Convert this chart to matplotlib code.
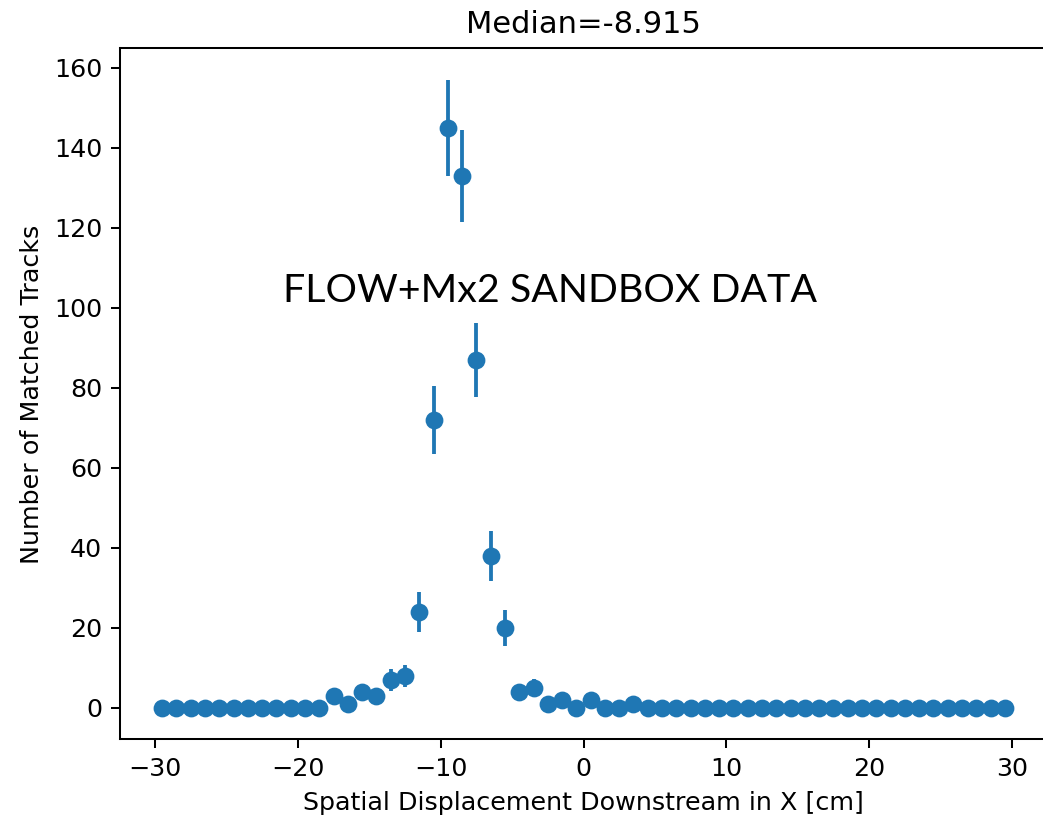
import numpy as np
import matplotlib.pyplot as plt

# bin centres of 1 cm bins from -30 to 30
bin_centres = np.arange(-29.5, 30.0, 1.0)

# counts (one per bin)
counts = [0, 0, 0, 0, 0, 0, 0, 0, 0, 0, 0, 0,     # -29.5 .. -18.5
          3, 1, 4, 3, 7, 8, 24, 72, 145, 133,      # -17.5 .. -8.5
          87, 38, 20, 4, 5, 1, 2, 0, 2, 0,         # -7.5 .. 1.5
          0, 1] + [0] * 26                         # 2.5 .. 29.5
counts = np.array(counts)
errors = np.sqrt(counts)

median_value = -8.915
title_text = f"Median={median_value}"
overlay_text = "FLOW+Mx2 SANDBOX DATA"

dpi = 183
fig = plt.figure(figsize=(1043 / dpi, 822 / dpi), dpi=dpi)
# right edge of the axes sits just past the picture, as in the screenshot
ax = fig.add_axes([120 / 1043, 1 - 739.4 / 822, (1047 - 120) / 1043, (739.4 - 48.4) / 822])

ax.errorbar(bin_centres, counts, yerr=errors, fmt='o')

ax.set_title(title_text)
ax.set_xlabel('Spatial Displacement Downstream in X [cm]')
ax.set_ylabel('Number of Matched Tracks')

# label pasted on top of the plot
fig.text(550 / 1043, 1 - 291 / 822, overlay_text, family=['Lato', 'DejaVu Sans'],
         fontsize=15.5, ha='center', va='center', color='black')

fig.savefig('out.png', dpi=dpi)
